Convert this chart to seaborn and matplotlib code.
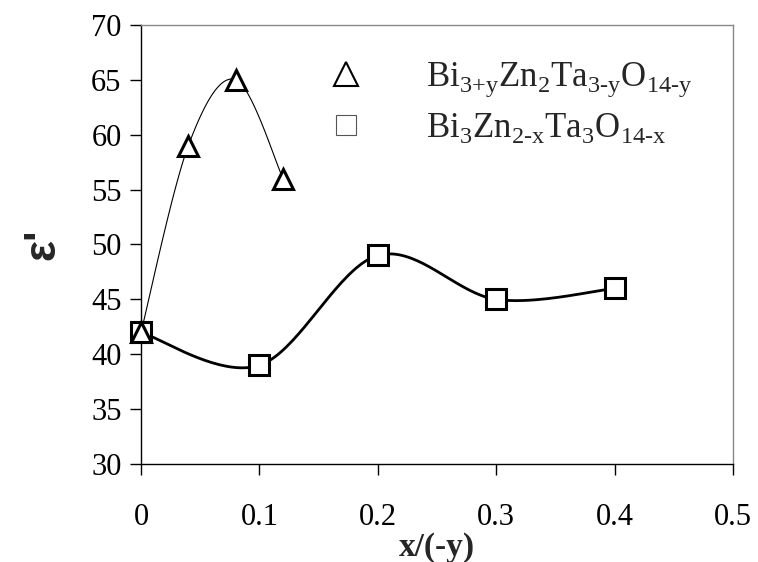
import numpy as np
import pandas as pd
import matplotlib
matplotlib.use("Agg")
import matplotlib.pyplot as plt
from matplotlib.lines import Line2D
import seaborn as sns

# data
x_tri = [0.0, 0.04, 0.08, 0.12]
y_tri = [42, 59, 65, 56]
x_sq = [0.0, 0.1, 0.2, 0.3, 0.4]
y_sq = [42, 39, 49, 45, 46]
label_tri = r"$\mathrm{Bi}_{\text{3+y}}\mathrm{Zn}_{2}\mathrm{Ta}_{\text{3-y}}\mathrm{O}_{\text{14-y}}$"
label_sq = r"$\mathrm{Bi}_{3}\mathrm{Zn}_{\text{2-x}}\mathrm{Ta}_{3}\mathrm{O}_{\text{14-x}}$"


def smooth(xs, ys, n=40):
    # Excel-like smoothed line (cardinal bezier through the points)
    xs = np.asarray(xs, float)
    ys = np.asarray(ys, float)
    px = np.concatenate([[xs[0]], xs, [xs[-1]]])
    py = np.concatenate([[ys[0]], ys, [ys[-1]]])
    out_x, out_y = [], []
    t = np.linspace(0, 1, n)
    for i in range(1, len(px) - 2):
        p0 = np.array([px[i], py[i]])
        p3 = np.array([px[i + 1], py[i + 1]])
        p1 = p0 + (np.array([px[i + 1], py[i + 1]]) - np.array([px[i - 1], py[i - 1]])) / 6
        p2 = p3 - (np.array([px[i + 2], py[i + 2]]) - np.array([px[i], py[i]])) / 6
        b = ((1 - t) ** 3)[:, None] * p0 + (3 * (1 - t) ** 2 * t)[:, None] * p1 \
            + (3 * (1 - t) * t ** 2)[:, None] * p2 + (t ** 3)[:, None] * p3
        out_x.extend(b[:, 0])
        out_y.extend(b[:, 1])
    return pd.DataFrame({"x": out_x, "y": out_y})


sns.set_theme(style="white")
plt.rcParams["font.family"] = ["Liberation Serif", "DejaVu Serif"]
plt.rcParams["mathtext.fontset"] = "custom"
plt.rcParams["mathtext.rm"] = "Liberation Serif"

fig = plt.figure(figsize=(7.58, 5.62), dpi=100)
ax = fig.add_axes([0.186, 0.174, 0.781, 0.782])

sns.lineplot(data=smooth(x_tri, y_tri), x="x", y="y", sort=False, color="black",
             linewidth=0.8, ax=ax, estimator=None)
sns.lineplot(data=smooth(x_sq, y_sq), x="x", y="y", sort=False, color="black",
             linewidth=2.0, ax=ax, estimator=None)
ax.plot(x_sq, y_sq, linestyle="none", marker="s", markersize=14, markerfacecolor="white",
        markeredgecolor="black", markeredgewidth=2.2, clip_on=False, zorder=5)
ax.plot(x_tri, y_tri, linestyle="none", marker="^", markersize=15, markerfacecolor="white",
        markeredgecolor="black", markeredgewidth=2.2, clip_on=False, zorder=6)

ax.set_xlim(0, 0.5)
ax.set_ylim(30, 70)
ax.set_xticks([0, 0.1, 0.2, 0.3, 0.4, 0.5])
ax.set_xticklabels(["0", "0.1", "0.2", "0.3", "0.4", "0.5"])
ax.set_yticks(range(30, 71, 5))
ax.tick_params(axis="both", direction="out", length=8, width=1, labelsize=22, colors="black",
               bottom=True, left=True)
ax.tick_params(axis="x", pad=20)
ax.tick_params(axis="y", pad=6)
for s in ax.spines.values():
    s.set_color("black")
    s.set_linewidth(1)
ax.spines["top"].set_color("#888888")
ax.spines["right"].set_color("#888888")

ax.set_xlabel("x/(-y)", fontsize=24, fontweight="bold", labelpad=0)
ax.set_ylabel("ε'", fontsize=32, fontweight="bold", family=["Liberation Sans", "DejaVu Sans"],
              labelpad=20)

handles = [
    Line2D([], [], linestyle="none", marker="^", markersize=17, markerfacecolor="white",
           markeredgecolor="black", markeredgewidth=1.5),
    Line2D([], [], linestyle="none", marker="s", markersize=14, markerfacecolor="white",
           markeredgecolor="#555555", markeredgewidth=0.8),
]
ax.legend(handles, [label_tri, label_sq], loc="upper right", bbox_to_anchor=(0.985, 0.99),
          frameon=False, fontsize=25, handletextpad=1.3, labelspacing=0.35)

fig.savefig("out.png", dpi=100)
